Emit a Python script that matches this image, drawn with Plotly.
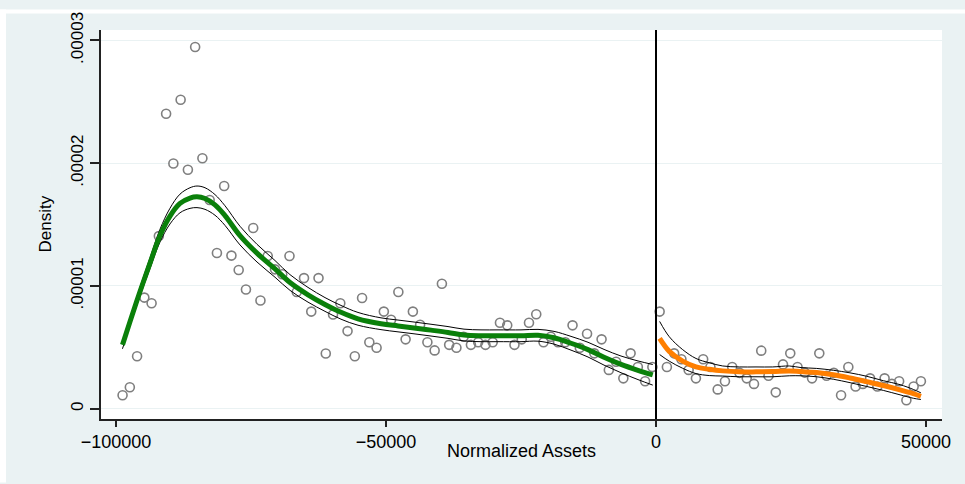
import plotly.graph_objects as go

# ---- data ----
bin_x_left = [-98784, -97440, -96096, -94752, -93408, -92064, -90720, -89376, -88032, -86688,
              -85344, -84000, -82656, -81312, -79968, -78624, -77280, -75936, -74592, -73248,
              -71904, -70560, -69216, -67872, -66528, -65184, -63840, -62496, -61152, -59808,
              -58464, -57120, -55776, -54432, -53088, -51744, -50400, -49056, -47712, -46368,
              -45024, -43680, -42336, -40992, -39648, -38304, -36960, -35616, -34272, -32928,
              -31584, -30240, -28896, -27552, -26208, -24864, -23520, -22176, -20832, -19488,
              -18144, -16800, -15456, -14112, -12768, -11424, -10080, -8736, -7392, -6048,
              -4704, -3360, -2016, -672]
bin_y_left = [0.109e-5, 0.175e-5, 0.427e-5, 0.905e-5, 0.859e-5, 1.406e-5, 2.403e-5, 1.997e-5, 2.517e-5, 1.947e-5,
              2.947e-5, 2.040e-5, 1.700e-5, 1.268e-5, 1.814e-5, 1.247e-5, 1.130e-5, 0.971e-5, 1.472e-5, 0.881e-5,
              1.244e-5, 1.135e-5, 1.095e-5, 1.244e-5, 0.950e-5, 1.064e-5, 0.791e-5, 1.064e-5, 0.449e-5, 0.767e-5,
              0.859e-5, 0.632e-5, 0.427e-5, 0.902e-5, 0.541e-5, 0.496e-5, 0.791e-5, 0.724e-5, 0.950e-5, 0.565e-5,
              0.791e-5, 0.684e-5, 0.541e-5, 0.475e-5, 1.018e-5, 0.520e-5, 0.496e-5, 0.586e-5, 0.520e-5, 0.541e-5,
              0.520e-5, 0.541e-5, 0.700e-5, 0.679e-5, 0.520e-5, 0.565e-5, 0.700e-5, 0.769e-5, 0.541e-5, 0.586e-5,
              0.541e-5, 0.541e-5, 0.679e-5, 0.496e-5, 0.610e-5, 0.451e-5, 0.565e-5, 0.316e-5, 0.382e-5, 0.247e-5,
              0.451e-5, 0.340e-5, 0.223e-5, 0.340e-5]

bin_x_right = [672, 2016, 3360, 4704, 6048, 7392, 8736, 10080, 11424, 12768,
               14112, 15456, 16800, 18144, 19488, 20832, 22176, 23520, 24864, 26208,
               27552, 28896, 30240, 31584, 32928, 34272, 35616, 36960, 38304, 39648,
               40992, 42336, 43680, 45024, 46368, 47712, 49056]
bin_y_right = [0.791e-5, 0.340e-5, 0.451e-5, 0.403e-5, 0.316e-5, 0.247e-5, 0.403e-5, 0.340e-5, 0.157e-5, 0.223e-5,
               0.340e-5, 0.292e-5, 0.247e-5, 0.202e-5, 0.473e-5, 0.268e-5, 0.133e-5, 0.361e-5, 0.451e-5, 0.340e-5,
               0.294e-5, 0.247e-5, 0.451e-5, 0.268e-5, 0.292e-5, 0.109e-5, 0.340e-5, 0.181e-5, 0.202e-5, 0.247e-5,
               0.181e-5, 0.247e-5, 0.202e-5, 0.223e-5, 0.069e-5, 0.181e-5, 0.223e-5]

fit_x_left = [-98800, -97400, -95600, -93700, -91850, -90000, -88148, -86296, -85000, -83519,
              -81667, -79815, -77037, -73889, -70556, -67778, -64444, -61296, -58333, -55185,
              -50926, -47778, -44815, -41667, -38519, -35556, -32407, -29259, -25000, -21852,
              -18889, -15741, -12593, -9630, -6481, -3333, -600]
fit_y_left = [0.520e-5, 0.710e-5, 0.948e-5, 1.186e-5, 1.410e-5, 1.569e-5, 1.672e-5, 1.716e-5, 1.726e-5, 1.712e-5,
              1.660e-5, 1.573e-5, 1.410e-5, 1.267e-5, 1.139e-5, 1.028e-5, 0.928e-5, 0.849e-5, 0.785e-5, 0.732e-5,
              0.692e-5, 0.674e-5, 0.658e-5, 0.640e-5, 0.621e-5, 0.600e-5, 0.594e-5, 0.594e-5, 0.594e-5, 0.598e-5,
              0.578e-5, 0.533e-5, 0.481e-5, 0.419e-5, 0.361e-5, 0.313e-5, 0.276e-5]
ci_hi_left = [0.552e-5, 0.742e-5, 0.984e-5, 1.230e-5, 1.462e-5, 1.633e-5, 1.748e-5, 1.800e-5, 1.814e-5, 1.800e-5,
              1.744e-5, 1.653e-5, 1.486e-5, 1.339e-5, 1.207e-5, 1.092e-5, 0.988e-5, 0.905e-5, 0.841e-5, 0.784e-5,
              0.740e-5, 0.722e-5, 0.706e-5, 0.688e-5, 0.669e-5, 0.648e-5, 0.642e-5, 0.642e-5, 0.642e-5, 0.646e-5,
              0.630e-5, 0.589e-5, 0.541e-5, 0.483e-5, 0.429e-5, 0.389e-5, 0.360e-5]
ci_lo_left = [0.488e-5, 0.678e-5, 0.912e-5, 1.142e-5, 1.358e-5, 1.505e-5, 1.596e-5, 1.632e-5, 1.638e-5, 1.624e-5,
              1.576e-5, 1.493e-5, 1.334e-5, 1.195e-5, 1.071e-5, 0.964e-5, 0.868e-5, 0.793e-5, 0.729e-5, 0.680e-5,
              0.644e-5, 0.626e-5, 0.610e-5, 0.592e-5, 0.573e-5, 0.552e-5, 0.546e-5, 0.546e-5, 0.546e-5, 0.550e-5,
              0.526e-5, 0.477e-5, 0.421e-5, 0.355e-5, 0.293e-5, 0.237e-5, 0.192e-5]

fit_x_right = [672, 2463, 4944, 7407, 9870, 12352, 15426, 18519, 21611, 24685,
               26852, 29759, 32833, 35926, 39019, 42093, 45185, 47648, 49056]
fit_y_right = [0.573e-5, 0.467e-5, 0.387e-5, 0.340e-5, 0.321e-5, 0.308e-5, 0.300e-5, 0.300e-5, 0.302e-5, 0.308e-5,
               0.302e-5, 0.294e-5, 0.276e-5, 0.250e-5, 0.220e-5, 0.189e-5, 0.154e-5, 0.123e-5, 0.101e-5]
ci_hi_right = [0.711e-5, 0.586e-5, 0.481e-5, 0.409e-5, 0.374e-5, 0.348e-5, 0.340e-5, 0.340e-5, 0.340e-5, 0.348e-5,
               0.335e-5, 0.328e-5, 0.313e-5, 0.292e-5, 0.264e-5, 0.228e-5, 0.196e-5, 0.157e-5, 0.129e-5]
ci_lo_right = [0.441e-5, 0.387e-5, 0.329e-5, 0.286e-5, 0.270e-5, 0.266e-5, 0.260e-5, 0.260e-5, 0.260e-5, 0.268e-5,
               0.268e-5, 0.260e-5, 0.240e-5, 0.212e-5, 0.181e-5, 0.149e-5, 0.113e-5, 0.085e-5, 0.075e-5]

x_tick_vals = [-100000, -50000, 0, 50000]
x_tick_text = ["\u2212100000", "\u221250000", "0", "50000"]
y_tick_vals = [0, 1e-5, 2e-5, 3e-5]
y_tick_text = ["0", ".00001", ".00002", ".00003"]
x_title = "Normalized Assets"
y_title = "Density"

# ---- styling ----
BG = "#EAF2F3"
FONT = "Liberation Sans, Arial, Helvetica, sans-serif"
marker_style = dict(symbol="circle-open", size=9, color="#7f7f7f", line=dict(width=1.6, color="#7f7f7f"))

fig = go.Figure()
fig.add_trace(go.Scatter(x=bin_x_left, y=bin_y_left, mode="markers", marker=marker_style, showlegend=False))
fig.add_trace(go.Scatter(x=bin_x_right, y=bin_y_right, mode="markers", marker=marker_style, showlegend=False))

for xs, ys in [(fit_x_left, ci_hi_left), (fit_x_left, ci_lo_left),
               (fit_x_right, ci_hi_right), (fit_x_right, ci_lo_right)]:
    fig.add_trace(go.Scatter(x=xs, y=ys, mode="lines", line=dict(color="black", width=1, shape="spline"),
                             showlegend=False))

fig.add_trace(go.Scatter(x=fit_x_left, y=fit_y_left, mode="lines",
                         line=dict(color="#0a800a", width=5, shape="spline"), showlegend=False))
fig.add_trace(go.Scatter(x=fit_x_right, y=fit_y_right, mode="lines",
                         line=dict(color="#ff7f00", width=5, shape="spline"), showlegend=False))

# plot-area geometry in pixels: left 101, right 942, top 21, bottom 419
W, H = 965, 484
L, R, T, B = 101, 23, 21, 65
pw, ph = W - L - R, H - T - B

def px(xp):
    return (xp - L) / pw

def py(yp):
    return (H - B - yp) / ph

shapes = [
    # white strips framing the graph region (left and top edges of the page)
    dict(type="rect", xref="paper", yref="paper", x0=px(0), x1=px(6), y0=py(H), y1=py(0),
         fillcolor="white", line=dict(width=0), layer="below"),
    dict(type="rect", xref="paper", yref="paper", x0=px(0), x1=px(W), y0=py(4), y1=py(0),
         fillcolor="white", line=dict(width=0), layer="below"),
    # cutoff line at zero
    dict(type="line", xref="x", yref="paper", x0=0, x1=0, y0=0, y1=1,
         line=dict(color="black", width=2), layer="above"),
]

annotations = [
    dict(text=x_title, xref="paper", yref="paper", x=px(521), y=py(452),
         xanchor="center", yanchor="middle", showarrow=False, font=dict(size=18)),
    dict(text=y_title, xref="paper", yref="paper", x=px(45), y=py(220), textangle=-90,
         xanchor="center", yanchor="middle", showarrow=False, font=dict(size=17)),
]

fig.update_layout(
    width=W, height=H,
    margin=dict(l=L, r=R, t=T, b=B, pad=0),
    paper_bgcolor=BG, plot_bgcolor="white",
    font=dict(family=FONT, size=18, color="black"),
    shapes=shapes, annotations=annotations,
    showlegend=False,
)
fig.update_xaxes(
    range=[-102778, 52963], tickvals=x_tick_vals, ticktext=x_tick_text,
    ticks="outside", ticklen=6, tickwidth=1.5, tickcolor="#222",
    showline=True, linecolor="#222", linewidth=1.5,
    showgrid=False, zeroline=False,
    tickfont=dict(size=18),
)
fig.update_yaxes(
    range=[-0.084e-5, 3.085e-5], tickvals=y_tick_vals, ticktext=y_tick_text, tickangle=-90,
    ticks="outside", ticklen=9, tickwidth=1.5, tickcolor="#222",
    showline=True, linecolor="#222", linewidth=1.5,
    showgrid=True, gridcolor=BG, gridwidth=1.2, zeroline=False,
    tickfont=dict(size=17),
)

fig.write_html("out.html")
